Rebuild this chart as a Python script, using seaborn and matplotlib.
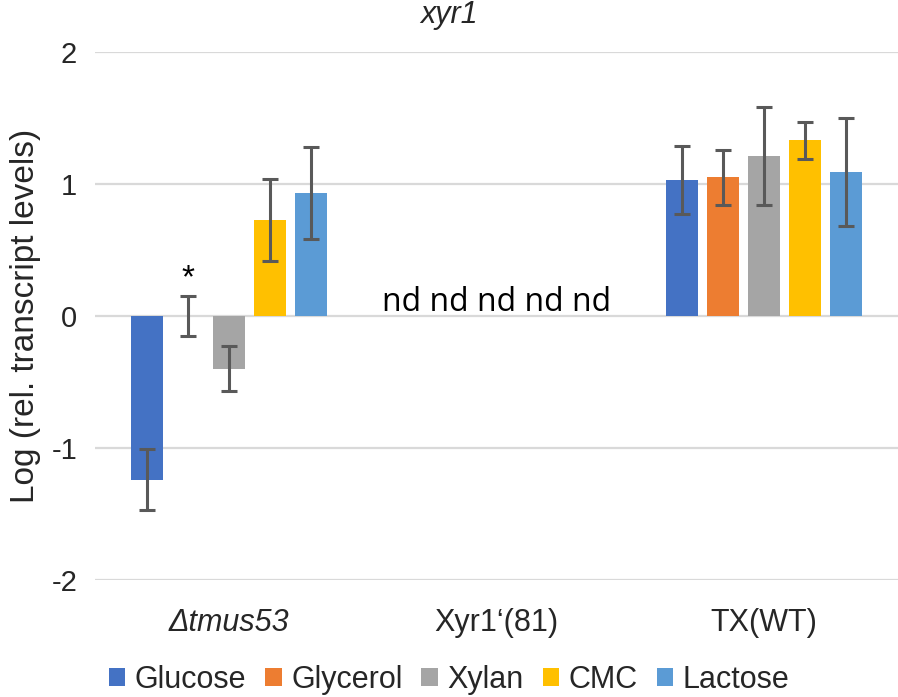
import matplotlib
matplotlib.use("Agg")
import matplotlib.pyplot as plt
import seaborn as sns
import pandas as pd
import numpy as np
from matplotlib.patches import Patch

# ---- data ----
strains = ["Δtmus53", "Xyr1‘(81)", "TX(WT)"]
carbons = ["Glucose", "Glycerol", "Xylan", "CMC", "Lactose"]
tmus53_vals = [-1.24, 0.0, -0.40, 0.73, 0.93]
tmus53_err = [0.23, 0.15, 0.17, 0.31, 0.35]
xyr1_vals = [np.nan, np.nan, np.nan, np.nan, np.nan]
xyr1_err = [np.nan, np.nan, np.nan, np.nan, np.nan]
wt_vals = [1.03, 1.05, 1.21, 1.33, 1.09]
wt_err = [0.26, 0.21, 0.37, 0.14, 0.41]
yticks = [-2, -1, 0, 1, 2]
colors = ["#4472C4", "#ED7D31", "#A5A5A5", "#FFC000", "#5B9BD5"]

rows = []
for s, vals, errs in zip(strains, [tmus53_vals, xyr1_vals, wt_vals],
                         [tmus53_err, xyr1_err, wt_err]):
    for c, v, e in zip(carbons, vals, errs):
        rows.append({"strain": s, "carbon": c, "value": v, "err": e})
df = pd.DataFrame(rows)

sns.set_style("white")
plt.rcParams["font.family"] = ["Liberation Sans", "DejaVu Sans"]

fig = plt.figure(figsize=(8.98, 6.97), dpi=100)
ax = fig.add_axes([0.1061, 0.1679, 0.8936, 0.7575])

sns.barplot(data=df.dropna(subset=["value"]), x="strain", y="value", hue="carbon",
            order=strains, hue_order=carbons, palette=colors, saturation=1,
            width=0.766, gap=0.22, errorbar=None, linewidth=0,
            legend=False, ax=ax)

# error bars from the bar patches
err_lookup = {(r.strain, r.carbon): r.err for r in df.itertuples()}
for c, cont in zip(carbons, ax.containers):
    for bar in cont:
        h = bar.get_height()
        if np.isnan(h):
            continue
        xc = bar.get_x() + bar.get_width() / 2
        idx = int(round(xc))
        e = err_lookup[(strains[idx], c)]
        ax.errorbar(xc, bar.get_y() + h, yerr=e, fmt="none", ecolor="#595959",
                    elinewidth=2.2, capsize=6, capthick=2.2, zorder=5)

# asterisk over Δtmus53 glycerol
gly_bar = ax.containers[1][0]
ax.text(gly_bar.get_x() + gly_bar.get_width() / 2, 0.28, "*",
        ha="center", va="center", fontsize=24, color="black")

# nd for Xyr1'(81)
ax.text(1.0, -0.025, "nd nd nd nd nd", ha="center", va="bottom",
        fontsize=23, family=["Open Sans", "DejaVu Sans"], color="black")

ax.set_ylim(-2, 2)
ax.set_xlim(-0.5, 2.5)
ax.set_yticks(yticks)
ax.set_yticklabels([str(t) for t in yticks])
ax.yaxis.grid(True, color="#D9D9D9", linewidth=1.6)
ax.set_axisbelow(True)
for sp in ax.spines.values():
    sp.set_visible(False)
ax.tick_params(axis="y", length=0, labelsize=21, pad=13)
ax.tick_params(axis="x", length=0, labelsize=22, pad=20)
ax.set_xlabel("")
ax.set_ylabel("Log (rel. transcript levels)", fontsize=24)
ax.yaxis.set_label_coords(-0.068, 0.5)
ax.get_xticklabels()[0].set_fontstyle("italic")

fig.text(0.5, 0.979, "xyr1", ha="center", va="center", fontsize=22,
         fontstyle="italic")

handles = [Patch(facecolor=col, edgecolor="none") for col in colors]
fig.legend(handles, carbons, loc="center", bbox_to_anchor=(0.5, 0.025),
           ncol=5, frameon=False, fontsize=22, handlelength=0.55,
           handleheight=0.55, handletextpad=0.3, columnspacing=0.62)

fig.savefig("out.png", dpi=100)
